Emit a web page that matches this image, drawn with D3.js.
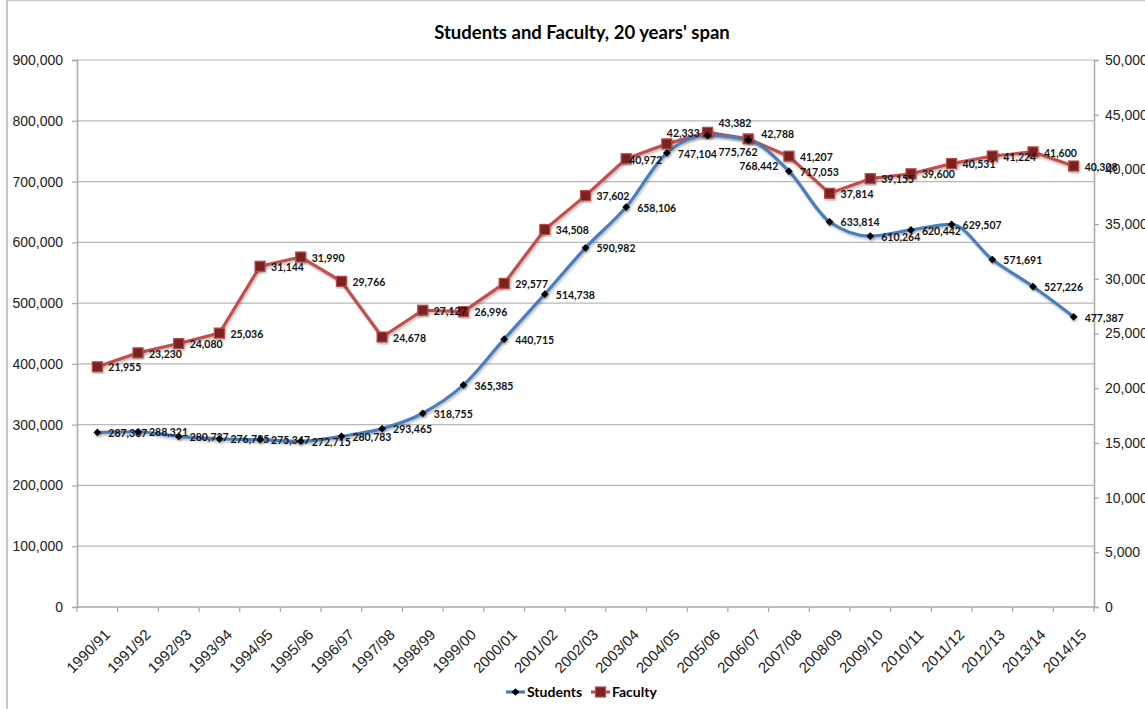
<!DOCTYPE html>
<html>
<head>
<meta charset="utf-8">
<script src="https://cdn.jsdelivr.net/npm/d3@7"></script>
<style>
  html, body { margin: 0; padding: 0; background: #fff; }
  svg { display: block; }
</style>
</head>
<body>
<svg id="chart" width="1145" height="709"></svg>
<script>
const categories = ["1990/91","1991/92","1992/93","1993/94","1994/95","1995/96","1996/97","1997/98","1998/99","1999/00","2000/01","2001/02","2002/03","2003/04","2004/05","2005/06","2006/07","2007/08","2008/09","2009/10","2010/11","2011/12","2012/13","2013/14","2014/15"];
const students = [287307,288321,280727,276795,275347,272715,280783,293465,318755,365385,440715,514738,590982,658106,747104,775762,768442,717053,633814,610264,620442,629507,571691,527226,477387];
const faculty = [21955,23230,24080,25036,31144,31990,29766,24678,27127,26996,29577,34508,37602,40972,42333,43382,42788,41207,37814,39155,39600,40531,41224,41600,40308];
const leftTicks = [0,100000,200000,300000,400000,500000,600000,700000,800000,900000];
const rightTicks = [0,5000,10000,15000,20000,25000,30000,35000,40000,45000,50000];
const seriesNames = ["Students","Faculty"];
const titleText = "Students and Faculty, 20 years' span";

const svg = d3.select("#chart");
const L = 77, R = 1094, T = 60, B = 607;
const fmt = d3.format(",");

const x = d3.scaleBand().domain(categories).range([L, R]).padding(0);
const cx = c => x(c) + x.bandwidth() / 2;
const yL = d3.scaleLinear().domain([0, 900000]).range([B, T]);
const yR = d3.scaleLinear().domain([0, 50000]).range([B, T]);

// outer frame edges (left and top visible)
svg.append("line").attr("x1", 7).attr("x2", 7).attr("y1", 0).attr("y2", 709)
  .attr("stroke", "#c8c8c8").attr("stroke-width", 2);
svg.append("line").attr("x1", 7).attr("x2", 1145).attr("y1", 0.5).attr("y2", 0.5)
  .attr("stroke", "#c8c8c8").attr("stroke-width", 1.5);

// shadow filter
const defs = svg.append("defs");
const f = defs.append("filter").attr("id", "sh").attr("x", "-20%").attr("y", "-20%").attr("width", "140%").attr("height", "140%");
f.append("feDropShadow").attr("dx", 1).attr("dy", 2).attr("stdDeviation", 1.2).attr("flood-color", "#000").attr("flood-opacity", 0.25);

// title
svg.append("text").attr("x", 582).attr("y", 39).attr("text-anchor", "middle")
  .attr("font-family", "Lato, sans-serif").attr("font-weight", "bold").attr("font-size", 18.5)
  .attr("fill", "#000").text(titleText);

// gridlines
svg.append("g").selectAll("line").data(leftTicks.filter(d => d > 0)).join("line")
  .attr("x1", L).attr("x2", R).attr("y1", d => yL(d)).attr("y2", d => yL(d))
  .attr("stroke", "#b8b8b8").attr("stroke-width", 1.2);

// left axis
const gl = svg.append("g").attr("transform", `translate(${L},0)`)
  .call(d3.axisLeft(yL).tickValues(leftTicks).tickFormat(fmt).tickSize(5).tickPadding(9));
gl.select(".domain").attr("stroke", "#a8a8a8").attr("stroke-width", 1.5);
gl.selectAll(".tick line").attr("stroke", "#a8a8a8").attr("stroke-width", 1.2);
gl.selectAll("text").attr("font-family", "Liberation Sans, Arial, sans-serif").attr("font-size", 14).attr("fill", "#222");

// right axis
const gr = svg.append("g").attr("transform", `translate(${R},0)`)
  .call(d3.axisRight(yR).tickValues(rightTicks).tickFormat(fmt).tickSize(5).tickPadding(6));
gr.select(".domain").attr("stroke", "#a8a8a8").attr("stroke-width", 1.5);
gr.selectAll(".tick line").attr("stroke", "#a8a8a8").attr("stroke-width", 1.2);
gr.selectAll("text").attr("font-family", "Liberation Sans, Arial, sans-serif").attr("font-size", 14).attr("fill", "#222");

// bottom axis
const gb = svg.append("g");
gb.append("line").attr("x1", L).attr("x2", R).attr("y1", B).attr("y2", B)
  .attr("stroke", "#a8a8a8").attr("stroke-width", 1.5);
gb.selectAll("line.tk").data(categories.concat(["_end"])).join("line").attr("class", "tk")
  .attr("x1", (d, i) => i < categories.length ? x(d) : R)
  .attr("x2", (d, i) => i < categories.length ? x(d) : R)
  .attr("y1", B).attr("y2", B + 5).attr("stroke", "#a8a8a8").attr("stroke-width", 1.2);
gb.selectAll("text").data(categories).join("text")
  .attr("transform", d => `translate(${cx(d) + 10},${B + 25}) rotate(-45)`)
  .attr("text-anchor", "end").attr("dy", "0.35em")
  .attr("font-family", "Liberation Sans, Arial, sans-serif").attr("font-size", 15).attr("fill", "#222")
  .text(d => d);

// lines
const lineS = d3.line().x((d, i) => cx(categories[i])).y(d => yL(d)).curve(d3.curveMonotoneX);
const lineF = d3.line().x((d, i) => cx(categories[i])).y(d => yR(d));

svg.append("path").datum(faculty).attr("d", lineF).attr("fill", "none")
  .attr("stroke", "#c0504d").attr("stroke-width", 3.2).attr("stroke-linejoin", "round").attr("filter", "url(#sh)");
svg.append("path").datum(students).attr("d", lineS).attr("fill", "none")
  .attr("stroke", "#4a7ebb").attr("stroke-width", 3.2).attr("stroke-linejoin", "round").attr("filter", "url(#sh)");

// markers
svg.append("g").selectAll("rect").data(faculty).join("rect")
  .attr("x", (d, i) => cx(categories[i]) - 5).attr("y", d => yR(d) - 5)
  .attr("width", 10).attr("height", 10)
  .attr("fill", "#7a2423").attr("stroke", "#b94a47").attr("stroke-width", 1.2).attr("filter", "url(#sh)");
const diamond = d3.symbol().type(d3.symbolDiamond2).size(38);
svg.append("g").selectAll("path").data(students).join("path")
  .attr("d", diamond)
  .attr("transform", (d, i) => `translate(${cx(categories[i])},${yL(d)})`)
  .attr("fill", "#000").attr("filter", "url(#sh)");

// data labels (offset adjustments where the original moved labels to avoid overlaps)
const adjS = { "2005/06": [0, 16], "2006/07": [-20, 25] };
const adjF = { "2003/04": [-8, 1], "2004/05": [-11, -12], "2005/06": [0, -10], "2006/07": [2, -6] };
const labelFont = "Lato, sans-serif";
svg.append("g").selectAll("text").data(faculty).join("text")
  .attr("x", (d, i) => cx(categories[i]) + 11 + (adjF[categories[i]] ? adjF[categories[i]][0] : 0))
  .attr("y", (d, i) => yR(d) + 1 + (adjF[categories[i]] ? adjF[categories[i]][1] : 0))
  .attr("dy", "0.35em")
  .attr("font-family", labelFont).attr("font-weight", "bold").attr("font-size", 10.5).attr("fill", "#111")
  .text(d => fmt(d));
svg.append("g").selectAll("text").data(students).join("text")
  .attr("x", (d, i) => cx(categories[i]) + 11 + (adjS[categories[i]] ? adjS[categories[i]][0] : 0))
  .attr("y", (d, i) => yL(d) + 1 + (adjS[categories[i]] ? adjS[categories[i]][1] : 0))
  .attr("dy", "0.35em")
  .attr("font-family", labelFont).attr("font-weight", "bold").attr("font-size", 10.5).attr("fill", "#111")
  .text(d => fmt(d));

// legend
const lg = svg.append("g").attr("font-family", labelFont).attr("font-weight", "bold").attr("font-size", 14);
const legendItems = [
  { name: seriesNames[0], x: 506, color: "#4a7ebb", marker: "diamond" },
  { name: seriesNames[1], x: 591, color: "#c0504d", marker: "square" }
];
legendItems.forEach(it => {
  const g = lg.append("g");
  g.append("line").attr("x1", it.x).attr("x2", it.x + 19).attr("y1", 692).attr("y2", 692)
    .attr("stroke", it.color).attr("stroke-width", 3.2);
  if (it.marker === "diamond") {
    g.append("path").attr("d", diamond).attr("transform", `translate(${it.x + 9.5},692)`).attr("fill", "#000");
  } else {
    g.append("rect").attr("x", it.x + 4.5).attr("y", 687).attr("width", 10).attr("height", 10)
      .attr("fill", "#7a2423").attr("stroke", "#b94a47").attr("stroke-width", 1.2);
  }
  g.append("text").attr("x", it.x + 21).attr("y", 692).attr("dy", "0.35em").attr("fill", "#000").text(it.name);
});
</script>
</body>
</html>
